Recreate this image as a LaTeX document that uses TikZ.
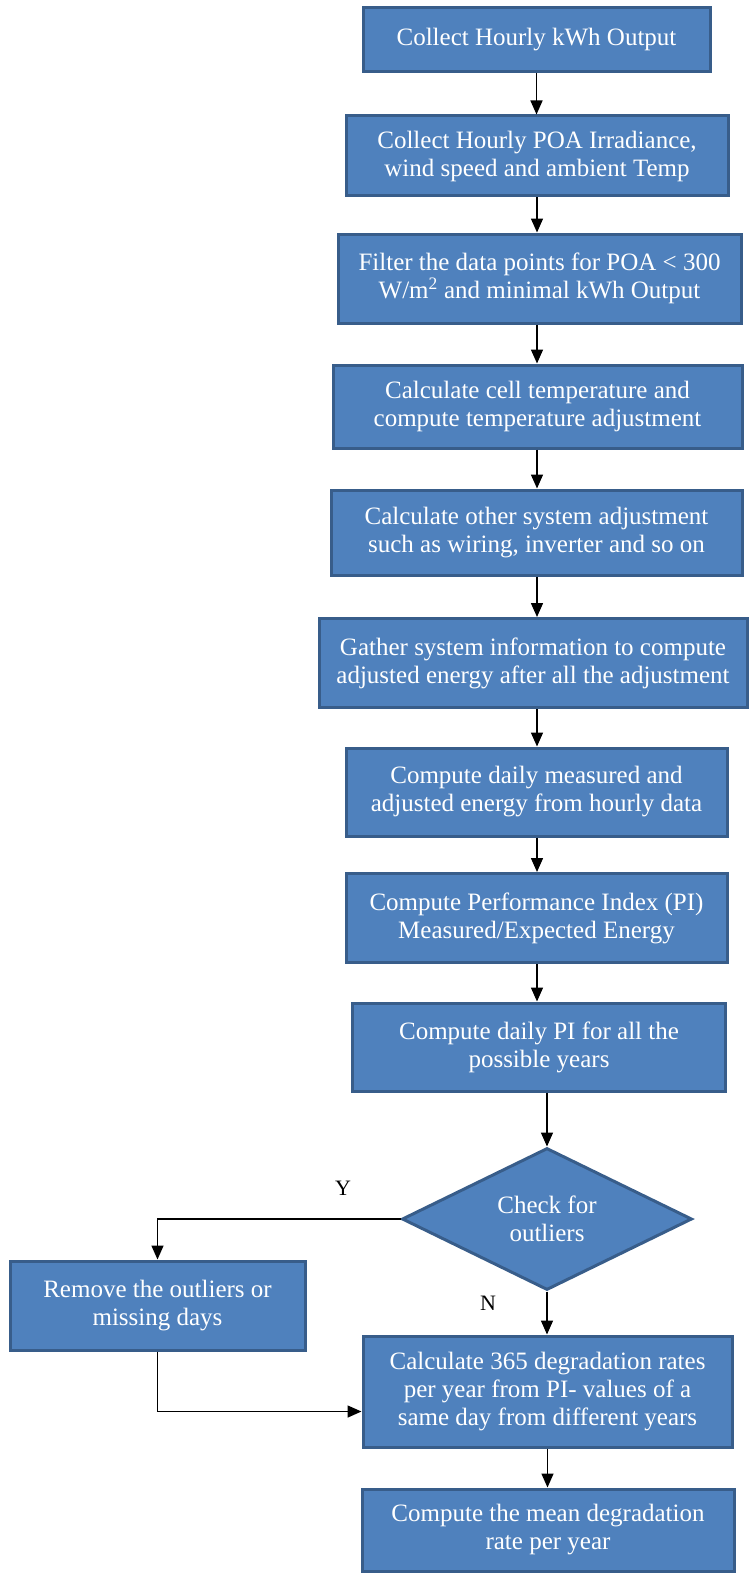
\documentclass[tikz,border=0pt]{standalone}
\usepackage{fontspec}
\setmainfont{Liberation Serif}
\usetikzlibrary{shapes.geometric,arrows.meta}
\definecolor{boxfill}{HTML}{4F81BD}
\definecolor{boxline}{HTML}{385D8A}
\tikzset{
  flowbox/.style={rectangle, fill=boxfill, draw=boxline, line width=3pt,
    text=white, align=center, inner sep=0pt,
    font=\fontsize{25}{28}\selectfont},
  decide/.style={diamond, shape aspect=2, fill=boxfill, draw=boxline, line width=3pt,
    text=white, align=center, inner sep=0pt, minimum width=290pt, minimum height=142pt,
    font=\fontsize{25}{28}\selectfont},
  arr/.style={line width=1.5pt, -{Triangle[length=14pt,width=12pt]}},
  lab/.style={font=\fontsize{22}{26}\selectfont, text=black}
}
\begin{document}
\begin{tikzpicture}[x=1pt,y=-1pt]
\useasboundingbox (0,0) rectangle (749,1573);
\node[flowbox, minimum width=347pt, minimum height=64pt] (b1) at (536.5,40) {Collect Hourly kWh Output};
\node[flowbox, minimum width=382pt, minimum height=80pt] (b2) at (537,156) {Collect Hourly POA Irradiance,\\wind speed and ambient Temp};
\node[flowbox, minimum width=403pt, minimum height=89pt] (b3) at (539.5,278.5) {Filter the data points for POA < 300\\W/m\textsuperscript{2} and minimal kWh Output};
\node[flowbox, minimum width=409pt, minimum height=83pt] (b4) at (537.5,406.5) {Calculate cell temperature and\\compute temperature adjustment};
\node[flowbox, minimum width=411pt, minimum height=85pt] (b5) at (536.5,532.5) {Calculate other system adjustment\\such as wiring, inverter and so on};
\node[flowbox, minimum width=428pt, minimum height=89pt] (b6) at (533,663) {Gather system information to compute\\adjusted energy after all the adjustment};
\node[flowbox, minimum width=381pt, minimum height=88pt] (b7) at (536.5,792) {Compute daily measured and\\adjusted energy from hourly data};
\node[flowbox, minimum width=381pt, minimum height=89pt] (b8) at (536.5,918) {Compute Performance Index (PI)\\Measured/Expected Energy};
\node[flowbox, minimum width=373pt, minimum height=88pt] (b9) at (539,1047) {Compute daily PI for all the\\possible years};
\node[decide] (dia) at (547,1219) {Check for\\outliers};
\node[flowbox, minimum width=295pt, minimum height=89pt] (rem) at (157.5,1305.5) {Remove the outliers or\\missing days};
\node[flowbox, minimum width=369pt, minimum height=111pt] (calc) at (547.5,1391.5) {Calculate 365 degradation rates\\per year from PI- values of a\\same day from different years};
\node[flowbox, minimum width=372pt, minimum height=82pt] (mean) at (548,1530) {Compute the mean degradation\\rate per year};
\node[lab] (ylab) at (343,1188) {Y};
\node[lab] (nlab) at (488,1303) {N};
\draw[arr] (b1.south) -- (b1.south |- b2.north);
\draw[arr] (b2.south) -- (b2.south |- b3.north);
\draw[arr] (b3.south -| b2.south) -- (b2.south |- b4.north);
\draw[arr] (b4.south -| b2.south) -- (b2.south |- b5.north);
\draw[arr] (b5.south -| b2.south) -- (b2.south |- b6.north);
\draw[arr] (b6.south -| b2.south) -- (b2.south |- b7.north);
\draw[arr] (b7.south -| b2.south) -- (b2.south |- b8.north);
\draw[arr] (b8.south -| b2.south) -- (b2.south |- b9.north);
\draw[arr] (b9.south -| dia.north) -- (dia.north);
\draw[arr] (dia.west) -| (rem.north);
\draw[arr] (dia.south) -- (dia.south |- calc.north);
\draw[arr] (rem.south) |- ([yshift=-20pt]calc.west);
\draw[arr] (calc.south) -- (calc.south |- mean.north);
\end{tikzpicture}
\end{document}
